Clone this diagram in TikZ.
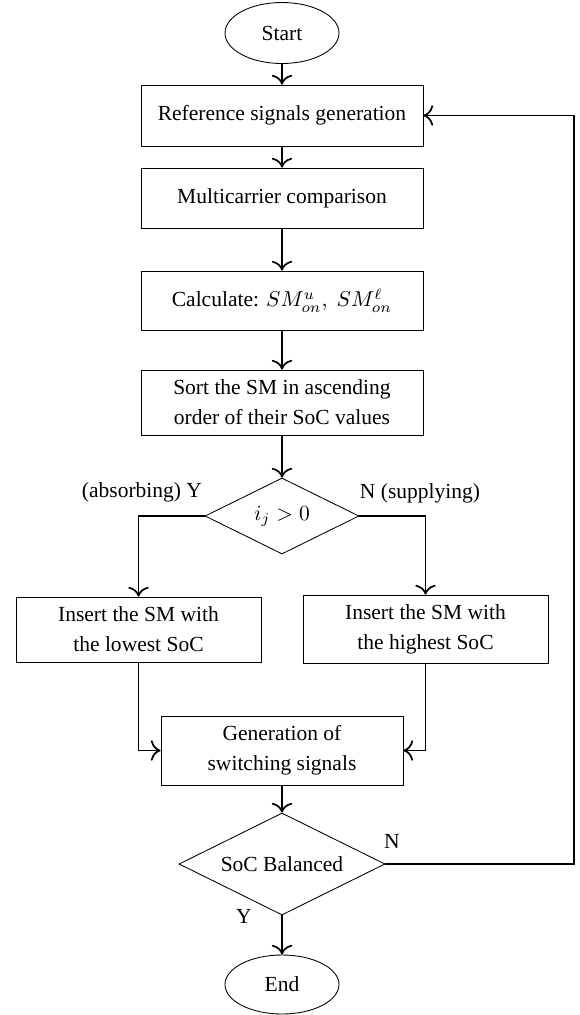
\documentclass[tikz,border=0pt]{standalone}
\usepackage[no-math]{fontspec}
\setmainfont{Liberation Serif}
\usetikzlibrary{shapes.geometric,arrows.meta}
\def\u{0.465pt}
\tikzset{
  procbox/.style={draw, thin, rectangle, align=center, inner sep=0pt,
    font=\fontsize{10}{14}\selectfont},
  termnode/.style={draw, thin, ellipse, inner sep=0pt, minimum width=114*\u, minimum height=61*\u,
    font=\fontsize{10}{14}\selectfont},
  decnode/.style={draw, thin, diamond, aspect=2, inner sep=0pt,
    font=\fontsize{10}{14}\selectfont},
  lbl/.style={inner sep=0pt, font=\fontsize{10}{14}\selectfont},
  arr/.style={thick, -{To[scale=1.35]}},
  ln/.style={thick}
}
\begin{document}
\begin{tikzpicture}[x=\u, y=-\u]
\useasboundingbox (0,0) rectangle (579,1015);
\node[termnode] (start) at (282,33) {Start};
\node[procbox, minimum width=282*\u, minimum height=61*\u] (b1) at (282,115.5) {Reference signals generation};
\node[procbox, minimum width=282*\u, minimum height=60*\u] (b2) at (282,198) {Multicarrier comparison};
\node[procbox, minimum width=282*\u, minimum height=59*\u] (b3) at (282,300.5) {Calculate: $SM^u_{on},~SM^\ell_{on}$};
\node[procbox, minimum width=282*\u, minimum height=65*\u] (b4) at (282,402.5) {Sort the SM in ascending\\order of their SoC values};
\node[decnode, minimum width=154*\u, minimum height=76*\u] (d1) at (282,516) {$i_j>0$};
\node[lbl] (ly1) at (142,492) {(absorbing) Y};
\node[lbl] (ln1) at (420,493) {N (supplying)};
\node[procbox, minimum width=245*\u, minimum height=65*\u] (b5) at (138.5,629.5) {Insert the SM with\\the lowest SoC};
\node[procbox, minimum width=245*\u, minimum height=68*\u] (b6) at (425.5,629) {Insert the SM with\\the highest SoC};
\node[procbox, minimum width=242*\u, minimum height=69*\u] (b7) at (282,750.5) {Generation of\\switching signals};
\node[decnode, minimum width=206*\u, minimum height=102*\u] (d2) at (282,864) {SoC Balanced};
\node[lbl] (ln2) at (392,841) {N};
\node[lbl] (ly2) at (244,916) {Y};
\node[termnode, minimum height=59*\u] (end) at (282,984.5) {End};
\coordinate (fb) at (574,115.5);

\draw[arr] (start) -- (b1);
\draw[arr] (b1) -- (b2);
\draw[arr] (b2) -- (b3);
\draw[arr] (b3) -- (b4);
\draw[arr] (b4) -- (d1);
\draw[arr] (d1.west) -| (b5.north);
\draw[arr] (d1.east) -| (b6.north);
\draw[arr] (b5.south) |- (b7.west);
\draw[arr] (b6.south) |- (b7.east);
\draw[arr] (b7) -- (d2);
\draw[arr] (d2) -- (end);
\draw[arr] (d2.east) -| (fb) -- (b1.east);
\end{tikzpicture}
\end{document}
